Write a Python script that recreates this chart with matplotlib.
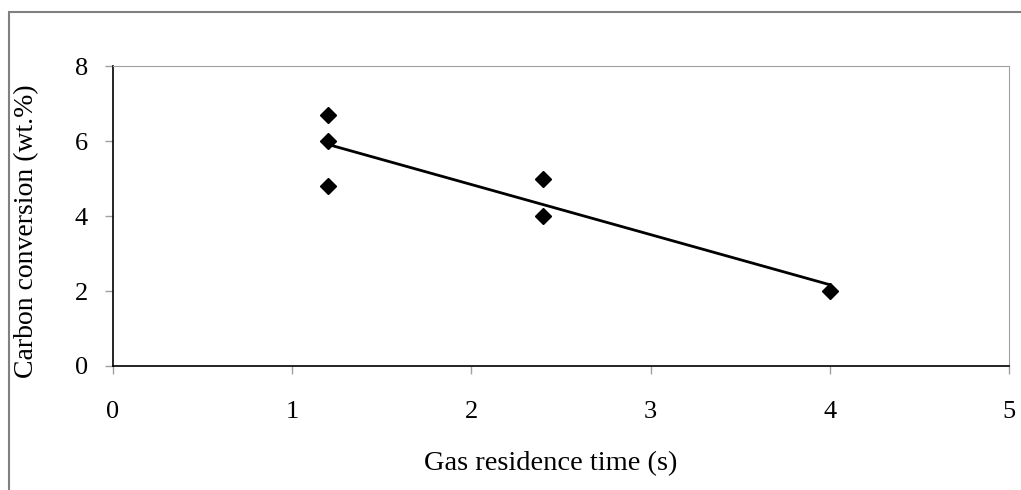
import numpy as np
import matplotlib.pyplot as plt
from matplotlib.patches import Rectangle

# residence time (s) and measured carbon conversion (wt.%)
residence_time = [1.2, 1.2, 1.2, 2.4, 2.4, 4.0]
conversion = [6.7, 6.0, 4.8, 5.0, 4.0, 2.0]

plt.rcParams['font.family'] = ['Liberation Serif', 'DejaVu Serif']

fig = plt.figure(figsize=(10.21, 4.90), dpi=100)
ax = fig.add_axes([113/1021, 1-366/490, (1009-113)/1021, (366-66)/490])

ax.plot(residence_time, conversion, linestyle='none', marker='D',
        markersize=8.5, color='black', zorder=3)

# linear trend line over the measured range
slope, intercept = np.polyfit(residence_time, conversion, 1)
xt = np.array([min(residence_time), max(residence_time)])
ax.plot(xt, slope*xt + intercept, color='black', linewidth=2)

ax.set_xlim(0, 5)
ax.set_ylim(0, 8)
ax.set_xticks(range(0, 6))
ax.set_yticks(range(0, 9, 2))
ax.tick_params(direction='out', length=6, width=1, color='#a0a0a0',
               labelsize=19)
ax.tick_params(axis='x', pad=19)
ax.tick_params(axis='y', pad=12)
for s in ['top', 'right']:
    ax.spines[s].set_color('#a0a0a0')
for s in ['left', 'bottom']:
    ax.spines[s].set_color('black')
    ax.spines[s].set_linewidth(1.2)

ax.set_xlabel('Gas residence time (s)', fontsize=20.5)
ax.set_ylabel('Carbon conversion (wt.%)', fontsize=20)
ax.xaxis.set_label_coords(0.488, -0.285)
ax.yaxis.set_label_coords(-0.082, 0.45)

# outer chart frame
fig.patches.append(Rectangle((9/1021, -0.1), 1.2, 1 - 12/490 + 0.1,
                             transform=fig.transFigure, fill=False,
                             edgecolor='#808080', linewidth=1.5))

plt.savefig('out.png')
